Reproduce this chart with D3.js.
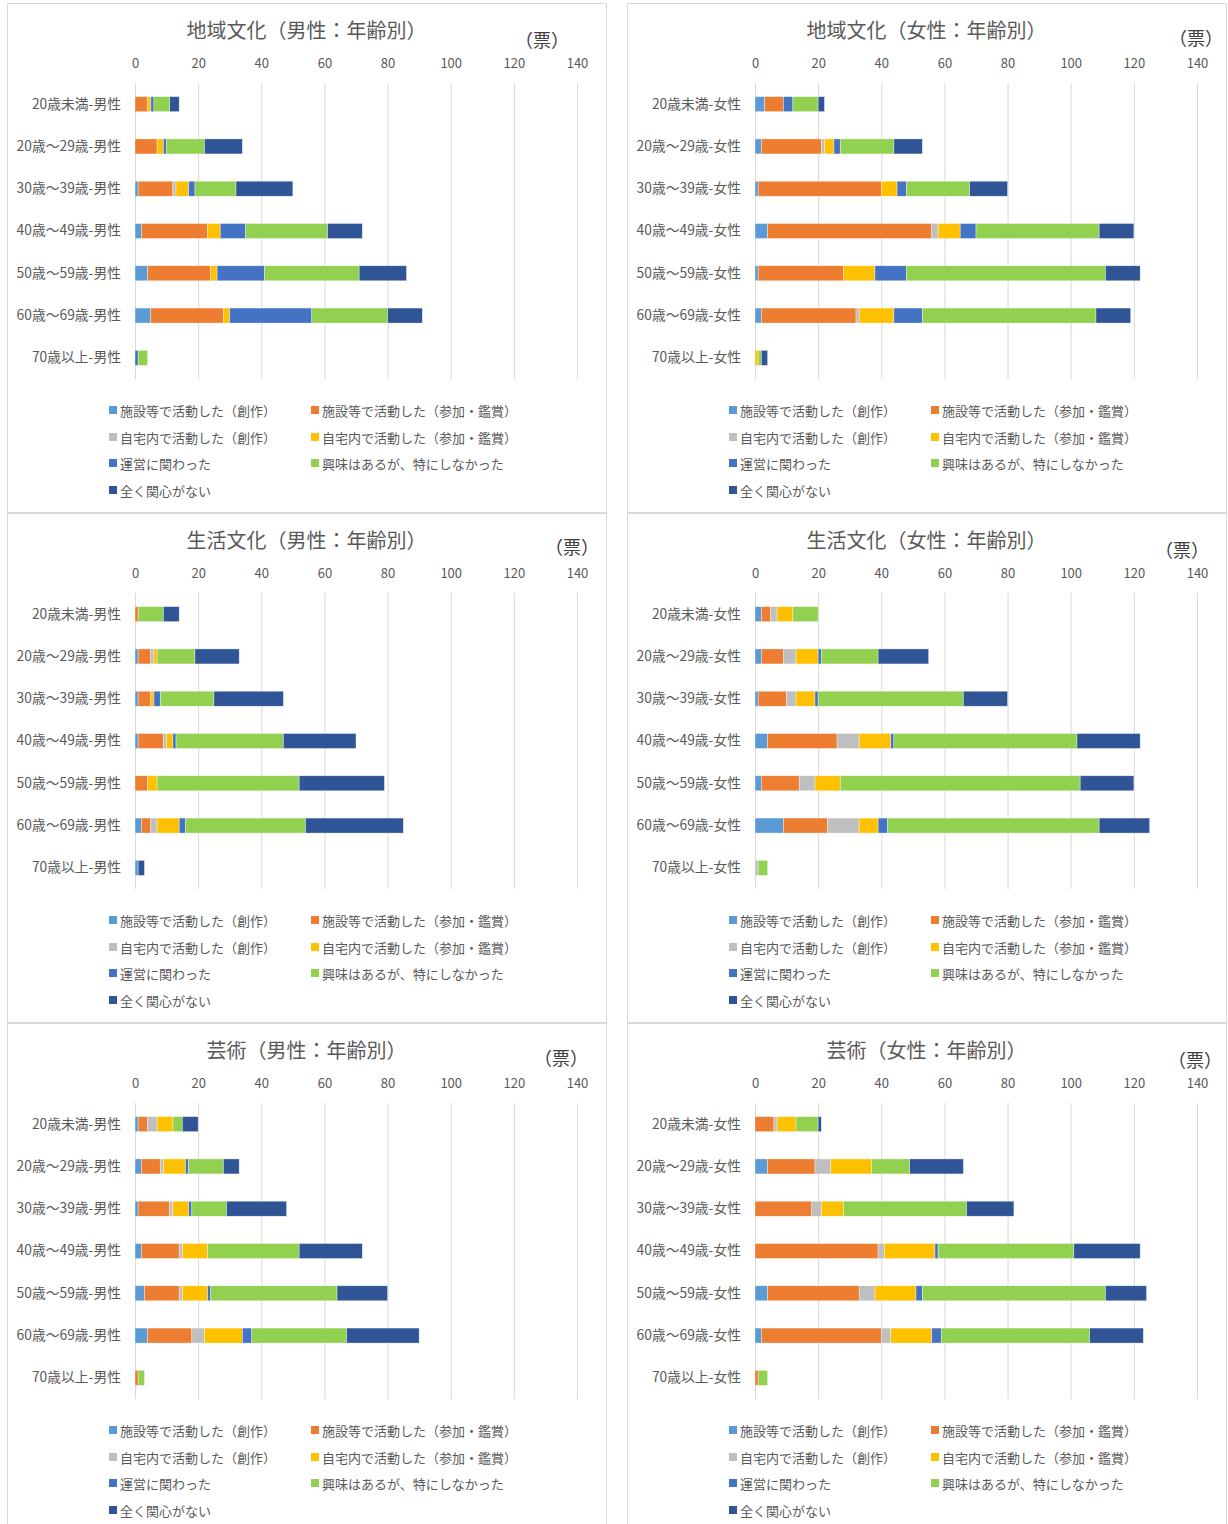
<!DOCTYPE html>
<html>
<head>
<meta charset="utf-8">
<script src="https://cdn.jsdelivr.net/npm/d3@7"></script>
<style>
html,body{margin:0;padding:0;background:#fff;}
svg{display:block;font-family:"Noto Sans CJK JP","Noto Sans",sans-serif;}
</style>
</head>
<body>
<svg id="chart" width="1228" height="1524"></svg>
<script>
const ageGroups = ["20歳未満", "20歳～29歳", "30歳～39歳", "40歳～49歳", "50歳～59歳", "60歳～69歳", "70歳以上"];
const seriesNames = ["施設等で活動した（創作）", "施設等で活動した（参加・鑑賞）", "自宅内で活動した（創作）", "自宅内で活動した（参加・鑑賞）", "運営に関わった", "興味はあるが、特にしなかった", "全く関心がない"];
const seriesColors = ["#5B9BD5", "#ED7D31", "#BFBFBF", "#FFC000", "#4472C4", "#92D050", "#2F5597"];
const xTicks = [0, 20, 40, 60, 80, 100, 120, 140];
const unitLabel = "（票）";

// values per age group, in series order
const chiikiMale = [
  [0, 4, 0, 1, 1, 5, 3],
  [0, 7, 0, 2, 1, 12, 12],
  [1, 11, 1, 4, 2, 13, 18],
  [2, 21, 0, 4, 8, 26, 11],
  [4, 20, 0, 2, 15, 30, 15],
  [5, 23, 0, 2, 26, 24, 11],
  [0, 0, 0, 0, 1, 3, 0]
];
const chiikiFemale = [
  [3, 6, 0, 0, 3, 8, 2],
  [2, 19, 1, 3, 2, 17, 9],
  [1, 39, 0, 5, 3, 20, 12],
  [4, 52, 2, 7, 5, 39, 11],
  [1, 27, 0, 10, 10, 63, 11],
  [2, 30, 1, 11, 9, 55, 11],
  [0, 0, 0, 1, 0, 1, 2]
];
const seikatsuMale = [
  [0, 1, 0, 0, 0, 8, 5],
  [1, 4, 1, 1, 0, 12, 14],
  [1, 4, 0, 1, 2, 17, 22],
  [1, 8, 1, 2, 1, 34, 23],
  [0, 4, 0, 3, 0, 45, 27],
  [2, 3, 2, 7, 2, 38, 31],
  [1, 0, 0, 0, 0, 0, 2]
];
const seikatsuFemale = [
  [2, 3, 2, 5, 0, 8, 0],
  [2, 7, 4, 7, 1, 18, 16],
  [1, 9, 3, 6, 1, 46, 14],
  [4, 22, 7, 10, 1, 58, 20],
  [2, 12, 5, 8, 0, 76, 17],
  [9, 14, 10, 6, 3, 67, 16],
  [0, 0, 1, 0, 0, 3, 0]
];
const geijutsuMale = [
  [1, 3, 3, 5, 0, 3, 5],
  [2, 6, 1, 7, 1, 11, 5],
  [1, 10, 1, 5, 1, 11, 19],
  [2, 12, 1, 8, 0, 29, 20],
  [3, 11, 1, 8, 1, 40, 16],
  [4, 14, 4, 12, 3, 30, 23],
  [0, 1, 0, 0, 0, 2, 0]
];
const geijutsuFemale = [
  [0, 6, 1, 6, 0, 7, 1],
  [4, 15, 5, 13, 0, 12, 17],
  [0, 18, 3, 7, 0, 39, 15],
  [0, 39, 2, 16, 1, 43, 21],
  [4, 29, 5, 13, 2, 58, 13],
  [2, 38, 3, 13, 3, 47, 17],
  [0, 1, 0, 0, 0, 3, 0]
];

const panels = [
  {title: "地域文化（男性：年齢別）", gender: "男性", data: chiikiMale, col: 0, row: 0, unitPos: [535, 36]},
  {title: "地域文化（女性：年齢別）", gender: "女性", data: chiikiFemale, col: 1, row: 0, unitPos: [569, 34]},
  {title: "生活文化（男性：年齢別）", gender: "男性", data: seikatsuMale, col: 0, row: 1, unitPos: [565, 33]},
  {title: "生活文化（女性：年齢別）", gender: "女性", data: seikatsuFemale, col: 1, row: 1, unitPos: [555, 36]},
  {title: "芸術（男性：年齢別）", gender: "男性", data: geijutsuMale, col: 0, row: 2, unitPos: [554, 34]},
  {title: "芸術（女性：年齢別）", gender: "女性", data: geijutsuFemale, col: 1, row: 2, unitPos: [568, 36]}
];

const svg = d3.select("#chart");
const panelW = 599, panelH = 509;
const colX = [7, 627], rowY = [3, 513, 1023];
const textColor = "#595959";

panels.forEach(p => {
  const g = svg.append("g").attr("transform", `translate(${colX[p.col]},${rowY[p.row]})`);
  g.append("rect").attr("x", 0.5).attr("y", 0.5).attr("width", panelW).attr("height", panelH)
    .attr("fill", "#fff").attr("stroke", "#d9d9d9").attr("stroke-width", 1);

  g.append("text").attr("x", panelW / 2).attr("y", 26).attr("text-anchor", "middle")
    .attr("dominant-baseline", "central").attr("font-size", 20).attr("fill", textColor).text(p.title);

  g.append("text").attr("x", p.unitPos[0]).attr("y", p.unitPos[1]).attr("text-anchor", "middle")
    .attr("dominant-baseline", "central").attr("font-size", 18).attr("fill", "#404040").text(unitLabel);

  const cats = ageGroups.map(a => a + "-" + p.gender);
  const x = d3.scaleLinear().domain([0, 140]).range([128, 570]);
  const y = d3.scaleBand().domain(cats).range([80, 376]).paddingInner(0.645).paddingOuter(0.3225);

  // gridlines
  g.append("g").selectAll("line").data(xTicks).join("line")
    .attr("x1", d => x(d) + 0.5).attr("x2", d => x(d) + 0.5)
    .attr("y1", 80).attr("y2", 376)
    .attr("stroke", "#d9d9d9").attr("stroke-width", 1);

  // top axis labels
  const ax = g.append("g").attr("transform", "translate(0,60)")
    .call(d3.axisTop(x).tickValues(xTicks).tickSize(0).tickPadding(0));
  ax.select(".domain").remove();
  ax.selectAll("text").attr("font-size", 13).attr("fill", textColor)
    .attr("font-family", "'Noto Sans CJK JP','Noto Sans',sans-serif")
    .attr("dy", "0.35em");

  // category axis labels
  const ay = g.append("g").attr("transform", "translate(114,0)")
    .call(d3.axisLeft(y).tickSize(0).tickPadding(0));
  ay.select(".domain").remove();
  ay.selectAll("text").attr("font-size", 13.8).attr("fill", textColor)
    .attr("font-family", "'Noto Sans CJK JP','Noto Sans',sans-serif");

  // stacked bars
  const rows = p.data.map((vals, i) => {
    const o = {cat: cats[i]};
    seriesNames.forEach((s, j) => o[s] = vals[j]);
    return o;
  });
  const stacked = d3.stack().keys(seriesNames)(rows);
  g.append("g").selectAll("g").data(stacked).join("g")
    .attr("fill", (d, i) => seriesColors[i])
    .selectAll("rect").data(d => d.filter(v => v[1] > v[0])).join("rect")
    .attr("x", d => x(d[0]))
    .attr("width", d => x(d[1]) - x(d[0]))
    .attr("y", d => y(d.data.cat))
    .attr("height", y.bandwidth())
    .attr("stroke", "#ffffff").attr("stroke-width", 0.6).attr("stroke-opacity", 0.6);

  // legend
  const legX = [102, 304], legY = [407, 434, 460, 487];
  const lg = g.append("g");
  seriesNames.forEach((s, i) => {
    const cx = legX[i % 2], cy = legY[Math.floor(i / 2)];
    lg.append("rect").attr("x", cx).attr("y", cy - 4).attr("width", 8).attr("height", 8).attr("fill", seriesColors[i]);
    lg.append("text").attr("x", cx + 11).attr("y", cy).attr("dominant-baseline", "central")
      .attr("font-size", 13).attr("fill", textColor).text(s);
  });
});
</script>
</body>
</html>
